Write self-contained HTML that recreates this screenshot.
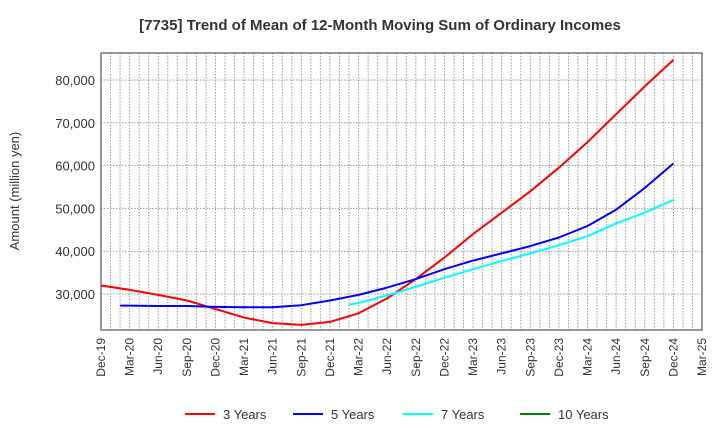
<!DOCTYPE html>
<html><head><meta charset="utf-8"><style>
body{margin:0;background:#fff;font-family:"Liberation Sans",sans-serif}
</style></head><body>
<svg id="c" width="720" height="440" xmlns="http://www.w3.org/2000/svg" font-family="Liberation Sans, sans-serif">
<text x="380" y="30" text-anchor="middle" font-size="15" font-weight="bold" fill="#333">[7735]  Trend of Mean of 12-Month Moving Sum of Ordinary Incomes</text>
<text transform="translate(19,191) rotate(-90)" text-anchor="middle" font-size="13" fill="#333">Amount (million yen)</text>
<g id="grid"></g><g id="series"></g><g id="axes"></g>
<g font-size="13" fill="#333">
<line x1="185" y1="414" x2="215" y2="414" stroke="#ff0000" stroke-width="2"/><text x="223" y="419">3 Years</text>
<line x1="293" y1="414" x2="323" y2="414" stroke="#0000ff" stroke-width="2"/><text x="331" y="419">5 Years</text>
<line x1="403" y1="414" x2="433" y2="414" stroke="#00ffff" stroke-width="2"/><text x="441" y="419">7 Years</text>
<line x1="520" y1="414" x2="550" y2="414" stroke="#008000" stroke-width="2"/><text x="558" y="419">10 Years</text>
</g>
</svg>
<script>
const xLabels=["Dec-19","Mar-20","Jun-20","Sep-20","Dec-20","Mar-21","Jun-21","Sep-21","Dec-21","Mar-22","Jun-22","Sep-22","Dec-22","Mar-23","Jun-23","Sep-23","Dec-23","Mar-24","Jun-24","Sep-24","Dec-24","Mar-25"];
const yTicks=[30000,40000,50000,60000,70000,80000];
// series: months since Dec-19 and values
const m3=[0,3,6,9,12,15,18,21,24,27,30,33,36,39,42,45,48,51,54,57,60];
const s3=[32000,31000,29800,28500,26500,24500,23200,22800,23500,25500,29000,33500,38500,44000,49000,54000,59500,65500,72000,78500,84700];
const m5=[2,3,6,9,12,15,18,21,24,27,30,33,36,39,42,45,48,51,54,57,60];
const s5=[27300,27300,27200,27200,27000,26900,26900,27400,28500,29800,31500,33500,35800,37800,39500,41200,43200,45900,49700,54800,60500];
const m7=[26,27,30,33,36,39,42,45,48,51,54,57,60];
const s7=[27500,27900,29700,31700,33800,35800,37700,39500,41400,43500,46500,49000,52000];
const m10=[];
const s10=[];
const L=101,R=702,T=53,B=330,ymin=21600,ymax=86300;
const NM=(xLabels.length-1)*3;
const XM=m=>L+m*(R-L)/NM;
const Y=v=>B-(v-ymin)/(ymax-ymin)*(B-T);
const NS="http://www.w3.org/2000/svg";
function mk(t,a,p){const e=document.createElementNS(NS,t);for(const k in a)e.setAttribute(k,a[k]);p.appendChild(e);return e;}
const g=document.getElementById('grid'),ax=document.getElementById('axes'),sg=document.getElementById('series');
for(let m=1;m<NM;m++){const x=XM(m);
const l=mk('line',{x1:x,y1:T,x2:x,y2:B,stroke:'#999','stroke-dasharray':'1.5,1.5','stroke-width':1},g);
}
yTicks.forEach(v=>{const y=Y(v);
const l=mk('line',{x1:L,y1:y,x2:R,y2:y,stroke:'#999','stroke-dasharray':'1.5,1.5','stroke-width':1},g);

const t=mk('text',{x:L-6,y:y+5,'text-anchor':'end','font-size':13,fill:'#333'},ax);t.textContent=v.toLocaleString('en-US');
});
xLabels.forEach((s,i)=>{const x=XM(i*3);
const t=mk('text',{transform:`translate(${x+4},${B+8}) rotate(-90)`,'text-anchor':'end','font-size':12,fill:'#333'},ax);t.textContent=s;
});
const f=mk('rect',{x:L,y:T,width:R-L,height:B-T,fill:'none',stroke:'#333','stroke-width':1},ax);

function line(ms,d,c,n){const pts=d.map((v,i)=>XM(ms[i]).toFixed(1)+','+Y(v).toFixed(1));
if(pts.length<2)return;const p=mk('polyline',{points:pts.join(' '),fill:'none',stroke:c,'stroke-width':2,'stroke-linejoin':'round'},sg);
}
line(m3,s3,'#ff0000','series-3-years');line(m5,s5,'#0000ff','series-5-years');line(m7,s7,'#00ffff','series-7-years');line(m10,s10,'#008000','series-10-years');
</script>
</body></html>
